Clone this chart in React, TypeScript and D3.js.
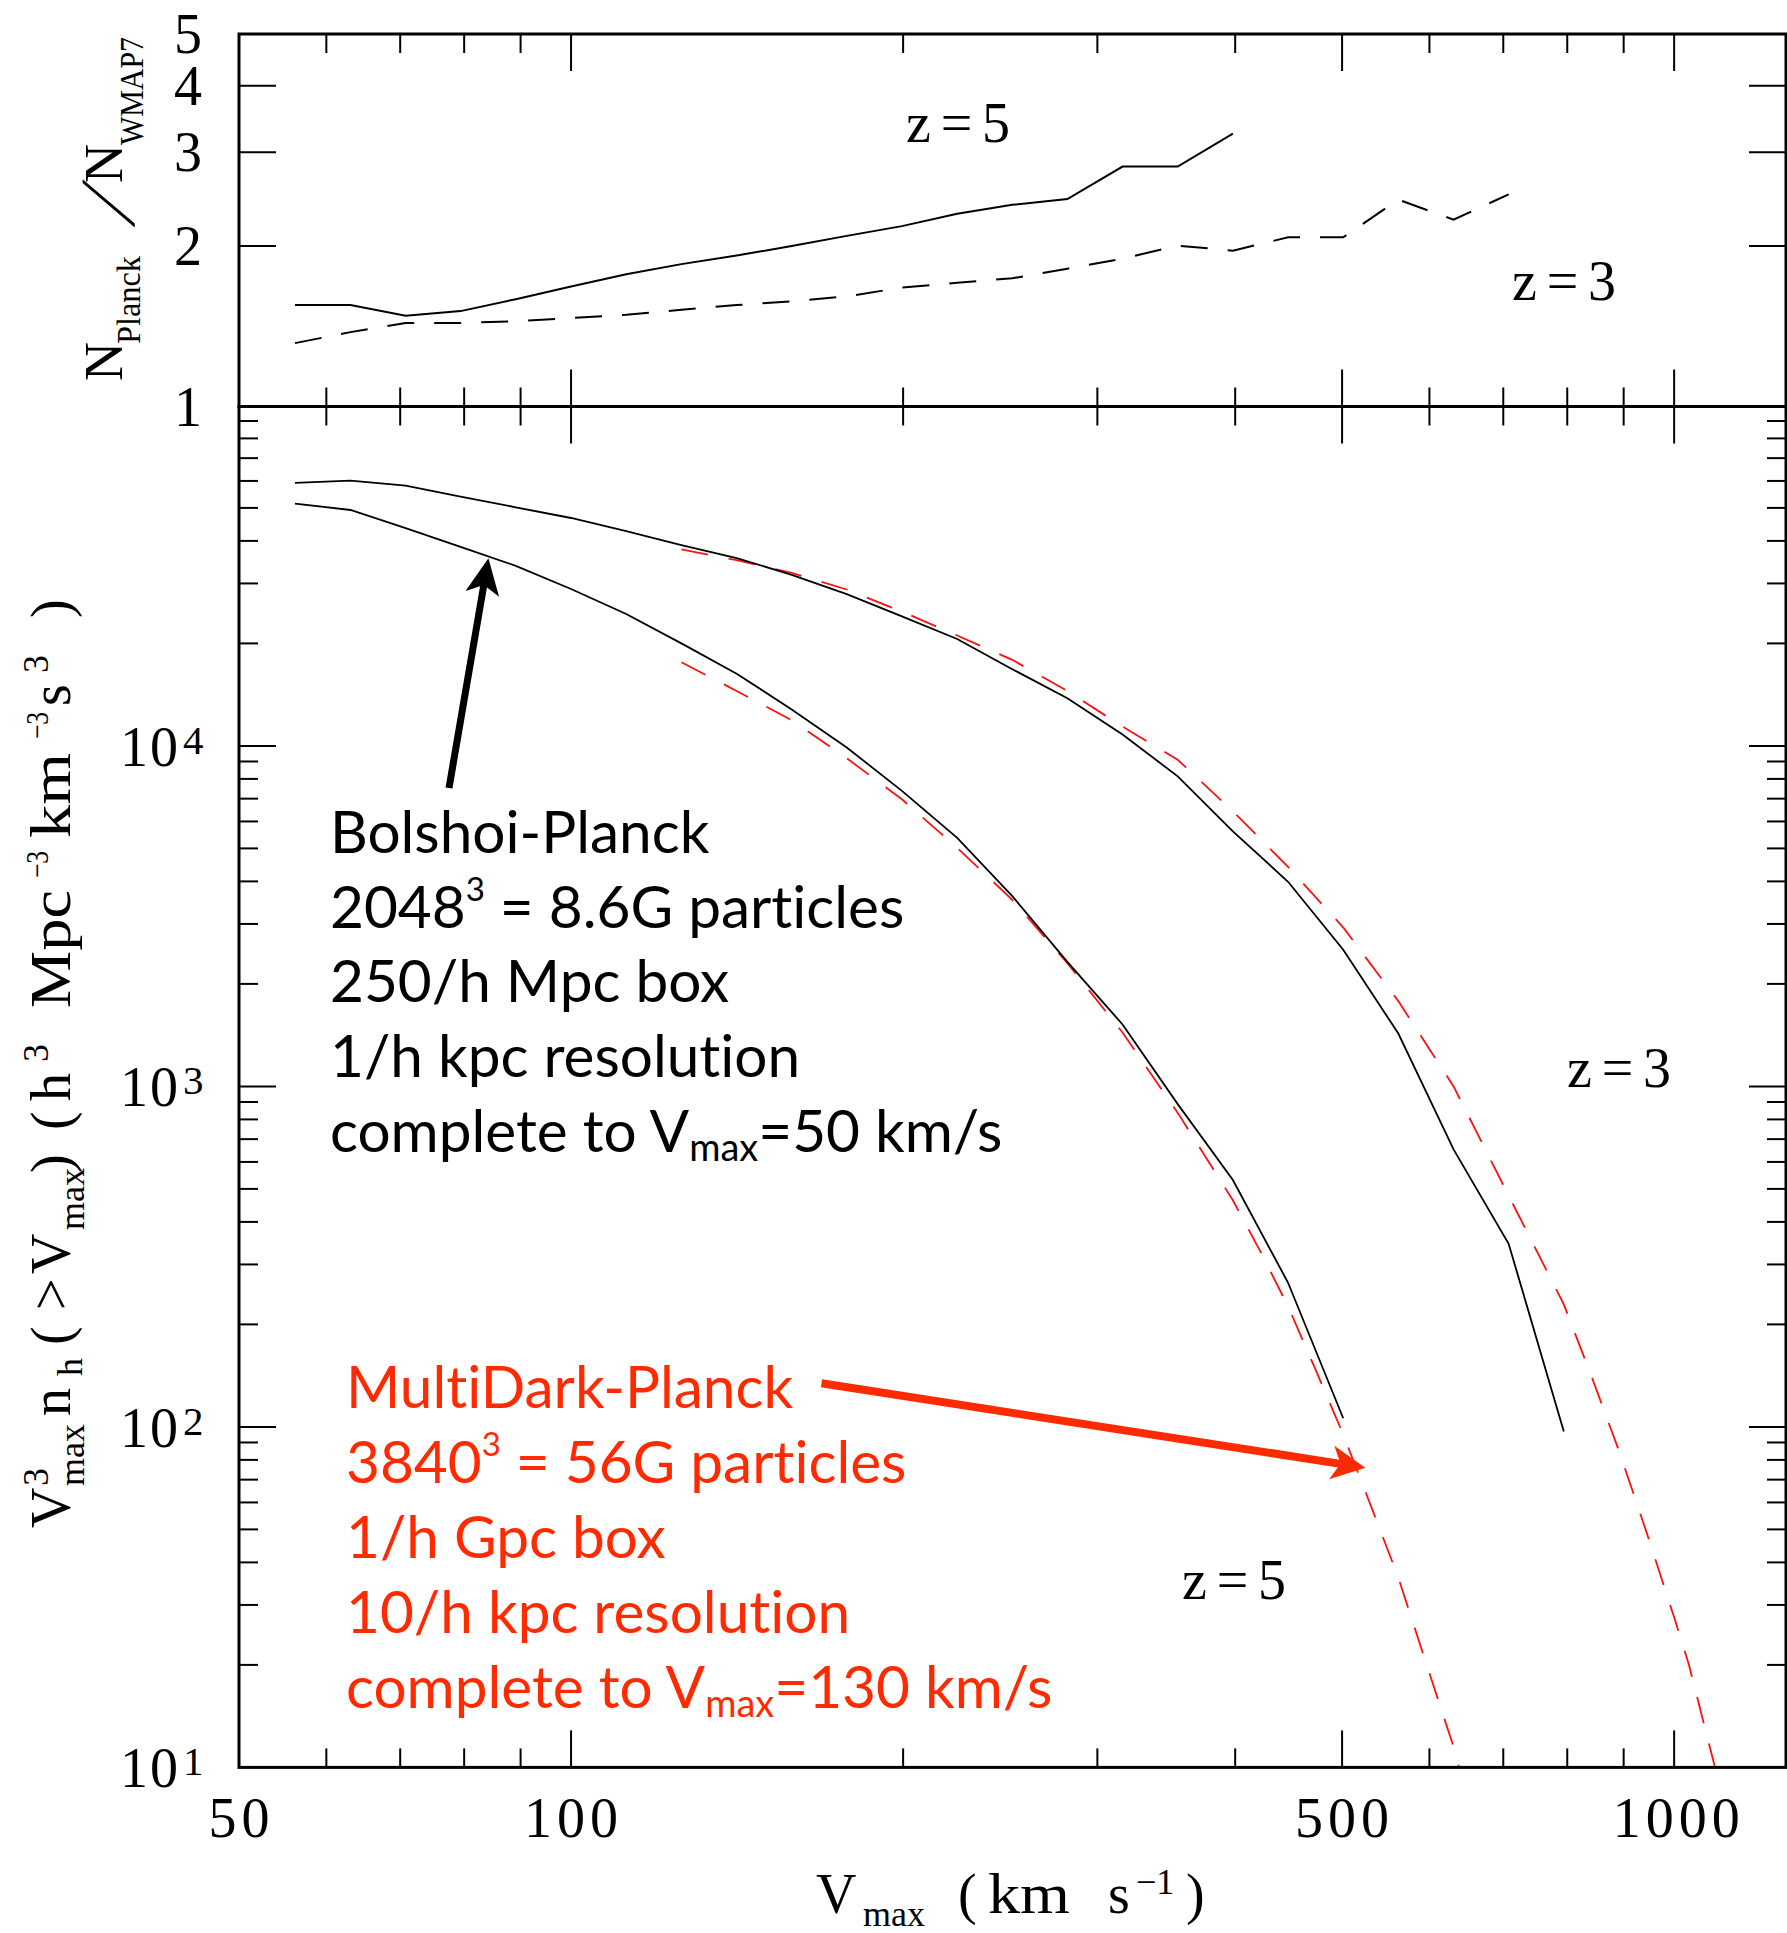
import React from 'react';
import * as d3 from 'd3';

// ---------------- data ----------------
const vmaxGrid = [56.2, 63.1, 70.8, 79.4, 89.1, 100, 112.2, 125.9, 141.3, 158.5, 177.8, 199.5,
  223.9, 251.2, 281.8, 316.2, 354.8, 398.1, 446.7, 501.2, 562.3, 631.0, 707.9, 794.3];

// upper panel: N_Planck / N_WMAP7
const ratioZ5 = [1.55, 1.55, 1.48, 1.51, 1.59, 1.68, 1.77, 1.85, 1.92, 2.0, 2.09, 2.18, 2.3, 2.39, 2.45, 2.82, 2.82, 3.25];
const ratioZ3 = [1.315, 1.379, 1.434, 1.434, 1.446, 1.466, 1.486, 1.519, 1.55, 1.575, 1.609, 1.672, 1.707, 1.74,
  1.814, 1.894, 2.004, 1.961, 2.077, 2.077, 2.444, 2.242, 2.501];

// lower panel: Bolshoi-Planck (black solid)
const bolshoiZ3 = [59200, 60100, 58100, 54000, 50200, 46700, 42700, 38900, 35600, 31800, 27900, 24000,
  20600, 16800, 13800, 10800, 8140, 5610, 3990, 2520, 1430, 653, 345, 97];
const bolshoiZ5 = [51500, 49300, 43600, 38400, 33800, 28900, 24400, 20000, 16300, 12800, 9890, 7380,
  5370, 3620, 2320, 1520, 887, 531, 265, 106];

// lower panel: MultiDark-Planck (red dashed)
const vmaxMdZ3 = [125.9, 141.3, 158.5, 177.8, 199.5, 223.9, 251.2, 281.8, 316.2, 354.8, 398.1, 446.7, 501.2,
  562.3, 631.0, 707.9, 794.3, 841.4, 891.3, 944.1, 1000, 1031, 1089];
const multidarkZ3 = [37800, 35100, 32200, 28800, 24800, 21100, 17900, 14500, 11400, 9100, 6430, 4410, 2930,
  1780, 1000, 478, 229, 141, 85, 49, 27.6, 20.1, 10];
const vmaxMdZ5 = [125.9, 141.3, 158.5, 177.8, 199.5, 223.9, 251.2, 281.8, 316.2, 354.8, 398.1, 421.7, 446.7,
  473.2, 501.2, 530.9, 562.3, 595.7, 631.0, 638.3];
const multidarkZ5 = [17600, 14500, 11900, 9200, 6970, 5020, 3530, 2300, 1440, 836, 463, 327, 226, 147, 95,
  58.7, 36.1, 20.3, 11.5, 10];

// ticks
const xMajorTicks = [100, 500, 1000];
const xMinorTicks = [60, 70, 80, 90, 200, 300, 400, 600, 700, 800, 900];
const xTickLabels = [50, 100, 500, 1000];
const ratioTicks = [2, 3, 4];
const ratioTickLabels = [1, 2, 3, 4, 5];
const decadeExponents = [1, 2, 3, 4];
const minorMultipliers = [2, 3, 4, 5, 6, 7, 8, 9];

const blackLines = [
  'Bolshoi-Planck',
  '2048|3| = 8.6G particles',
  '250/h Mpc box',
  '1/h kpc resolution',
  'complete to V_max_=50 km/s',
];
const redLines = [
  'MultiDark-Planck',
  '3840|3| = 56G particles',
  '1/h Gpc box',
  '10/h kpc resolution',
  'complete to V_max_=130 km/s',
];

const serif = "'Liberation Serif', 'Times New Roman', serif";
const sans = "Lato, 'Open Sans', sans-serif";
const RED_TEXT = '#ff2a00';
const RED_LINE = '#ff1010';
const ANN_SIZE = 58.5;

function zip(xs: number[], ys: number[]): [number, number][] {
  return ys.map((v, i) => [xs[i], v]);
}

function arrowShapes(tail: [number, number], tip: [number, number], len: number, half: number, notch: number) {
  const dx = tip[0] - tail[0], dy = tip[1] - tail[1];
  const L = Math.hypot(dx, dy);
  const ux = dx / L, uy = dy / L;
  const px = -uy, py = ux;
  const bx = tip[0] - ux * len, by = tip[1] - uy * len;
  const nx = tip[0] - ux * (len - notch), ny = tip[1] - uy * (len - notch);
  const head = `M${tip[0]},${tip[1]} L${bx + px * half},${by + py * half} L${nx},${ny} L${bx - px * half},${by - py * half} Z`;
  return { shaft: [tail, [nx, ny]] as [number, number][], head };
}

function AnnotLine({ text, x, y, color }: { text: string; x: number; y: number; color: string }) {
  // "|3|" = superscript, "_max_" = subscript
  const parts: React.ReactNode[] = [];
  const re = /(\|[^|]+\||_[^_]+_)/g;
  let last = 0, m: RegExpExecArray | null, k = 0, shift = 0;
  while ((m = re.exec(text)) !== null) {
    if (m.index > last) {
      parts.push(<tspan key={k++} dy={-shift}>{text.slice(last, m.index)}</tspan>);
      shift = 0;
    }
    const tok = m[0];
    if (tok.startsWith('|')) {
      parts.push(<tspan key={k++} dy={-27 - shift} fontSize={33}>{tok.slice(1, -1)}</tspan>);
      shift = -27;
    } else {
      parts.push(<tspan key={k++} dy={9 - shift} fontSize={38}>{tok.slice(1, -1)}</tspan>);
      shift = 9;
    }
    last = m.index + tok.length;
  }
  if (last < text.length) parts.push(<tspan key={k++} dy={-shift}>{text.slice(last)}</tspan>);
  return (
    <text x={x} y={y} fill={color} fontFamily={sans} fontSize={ANN_SIZE}
      style={{ fontVariantLigatures: 'none', fontFeatureSettings: '"liga" 0, "clig" 0' }}>{parts}</text>
  );
}

export default function App() {
  const W = 1787, H = 1933;
  const X0 = 239, X1 = 1786, YT = 34, YM = 406.5, YB = 1767.4;
  const MAJ = 37, MIN = 19;

  const x = d3.scaleLog().domain([50, 1263]).range([X0, X1]);
  const yR = d3.scaleLog().domain([1, 5]).range([YM, YT]);
  const yN = d3.scaleLog().domain([10, 1e5]).range([YB, YB - 4 * 340.5]);

  const lineR = d3.line<[number, number]>().x(d => x(d[0])).y(d => yR(d[1]));
  const lineN = d3.line<[number, number]>().x(d => x(d[0])).y(d => yN(d[1]));

  const ticks: React.ReactNode[] = [];
  let tk = 0;
  const tickStroke = { stroke: '#000', strokeWidth: 2 };
  const xEdges: [number, number[]][] = [[YT, [1]], [YM, [-1, 1]], [YB, [-1]]];
  xEdges.forEach(([yy, dirs]) => {
    dirs.forEach(dir => {
      xMajorTicks.forEach(v => ticks.push(<line key={tk++} x1={x(v)} x2={x(v)} y1={yy} y2={yy + dir * MAJ} {...tickStroke} />));
      xMinorTicks.forEach(v => ticks.push(<line key={tk++} x1={x(v)} x2={x(v)} y1={yy} y2={yy + dir * MIN} {...tickStroke} />));
    });
  });
  ratioTicks.forEach(v => {
    ticks.push(<line key={tk++} x1={X0} x2={X0 + MAJ} y1={yR(v)} y2={yR(v)} {...tickStroke} />);
    ticks.push(<line key={tk++} x1={X1} x2={X1 - MAJ} y1={yR(v)} y2={yR(v)} {...tickStroke} />);
  });
  decadeExponents.forEach(e => {
    const base = Math.pow(10, e);
    if (e > 1) {
      ticks.push(<line key={tk++} x1={X0} x2={X0 + MAJ} y1={yN(base)} y2={yN(base)} {...tickStroke} />);
      ticks.push(<line key={tk++} x1={X1} x2={X1 - MAJ} y1={yN(base)} y2={yN(base)} {...tickStroke} />);
    }
    minorMultipliers.forEach(mm => {
      const yy = yN(mm * base);
      if (yy < YM + 2) return;
      ticks.push(<line key={tk++} x1={X0} x2={X0 + MIN} y1={yy} y2={yy} {...tickStroke} />);
      ticks.push(<line key={tk++} x1={X1} x2={X1 - MIN} y1={yy} y2={yy} {...tickStroke} />);
    });
  });

  const blackArrow = arrowShapes([449, 788], [488.4, 558.3], 36, 17, 9);
  const redArrow = arrowShapes([821.5, 1383.3], [1365.3, 1467.7], 34, 17, 9);

  return (
    <svg width={W} height={H} viewBox={`0 0 ${W} ${H}`} style={{ position: 'absolute', left: 0, top: 0, background: '#fff' }}>
      <rect x={0} y={0} width={W} height={H} fill="#fff" />
      <defs>
        <clipPath id="lowClip"><rect x={X0} y={YM} width={X1 - X0} height={YB - YM} /></clipPath>
        <clipPath id="upClip"><rect x={X0} y={YT} width={X1 - X0} height={YM - YT} /></clipPath>
      </defs>

      {/* upper panel curves */}
      <g clipPath="url(#upClip)" fill="none">
        <path d={lineR(zip(vmaxGrid, ratioZ5)) || ''} stroke="#000" strokeWidth={2} />
        <path d={lineR(zip(vmaxGrid, ratioZ3)) || ''} stroke="#000" strokeWidth={2} strokeDasharray="27 20" />
      </g>

      {/* lower panel curves */}
      <g clipPath="url(#lowClip)" fill="none">
        <path d={lineN(zip(vmaxMdZ3, multidarkZ3)) || ''} stroke={RED_LINE} strokeWidth={1.8} strokeDasharray="27 21" />
        <path d={lineN(zip(vmaxMdZ5, multidarkZ5)) || ''} stroke={RED_LINE} strokeWidth={1.8} strokeDasharray="27 21" />
        <path d={lineN(zip(vmaxGrid, bolshoiZ3)) || ''} stroke="#000" strokeWidth={1.8} />
        <path d={lineN(zip(vmaxGrid, bolshoiZ5)) || ''} stroke="#000" strokeWidth={1.8} />
      </g>

      {/* frames */}
      <g fill="none" stroke="#000" strokeWidth={3}>
        <rect x={X0} y={YT} width={X1 - X0} height={YM - YT} />
        <rect x={X0} y={YM} width={X1 - X0} height={YB - YM} />
      </g>
      {ticks}

      {/* x tick labels */}
      <g fontFamily={serif} fontSize={56} textAnchor="middle" letterSpacing={5}>
        {xTickLabels.map(v => (
          <text key={v} x={x(v) + (v === 1000 ? 4.5 : 2.5)} y={1837}>{v}</text>
        ))}
      </g>
      {/* upper y tick labels */}
      <g fontFamily={serif} fontSize={56} textAnchor="end">
        {ratioTickLabels.map(v => (
          <text key={v} x={202} y={yR(v) + 19}>{v}</text>
        ))}
      </g>
      {/* lower y tick labels */}
      <g fontFamily={serif}>
        {decadeExponents.map(e => (
          <g key={e}>
            <text x={180} y={yN(Math.pow(10, e)) + 20} fontSize={56} textAnchor="end" letterSpacing={2}>10</text>
            <text x={183} y={yN(Math.pow(10, e)) + 8} fontSize={41}>{e}</text>
          </g>
        ))}
      </g>

      {/* x axis title */}
      <g fontFamily={serif} fill="#000">
        <text x={816} y={1913} fontSize={56}>V</text>
        <text x={863} y={1926} fontSize={36}>max</text>
        <text x={958} y={1913} fontSize={56}>(</text>
        <text x={988} y={1913} fontSize={56} textLength={82} lengthAdjust="spacingAndGlyphs">km</text>
        <text x={1108} y={1913} fontSize={56}>s</text>
        <text x={1136} y={1894} fontSize={36}>−1</text>
        <text x={1186} y={1913} fontSize={56}>)</text>
      </g>

      {/* upper y axis title */}
      <g transform="translate(122,381) rotate(-90)" fontFamily={serif} fill="#000">
        <text x={0} y={0} fontSize={54}>N</text>
        <text x={37} y={18} fontSize={34} textLength={88} lengthAdjust="spacingAndGlyphs">Planck</text>
        <g transform="translate(154,12) skewX(-27)">
          <text x={0} y={0} fontSize={78}>/</text>
        </g>
        <text x={198} y={0} fontSize={54}>N</text>
        <text x={236} y={21} fontSize={34} textLength={108} lengthAdjust="spacingAndGlyphs">WMAP7</text>
      </g>

      {/* lower y axis title */}
      <g transform="translate(70,1528) rotate(-90)" fontFamily={serif} fill="#000" fontSize={56}>
        <text x={0} y={0}>V</text>
        <text x={42} y={-22} fontSize={36}>3</text>
        <text x={42} y={14} fontSize={36}>max</text>
        <text x={112} y={0}>n</text>
        <text x={152} y={12} fontSize={36}>h</text>
        <text x={183} y={0}>(</text>
        <text x={218} y={0}>&gt;</text>
        <text x={254} y={0}>V</text>
        <text x={298} y={14} fontSize={36}>max</text>
        <text x={355} y={0}>)</text>
        <text x={398} y={0}>(</text>
        <text x={427} y={0}>h</text>
        <text x={466} y={-22} fontSize={36}>3</text>
        <text x={520} y={0} textLength={118} lengthAdjust="spacingAndGlyphs">Mpc</text>
        <text x={650} y={-22} fontSize={32} textLength={27} lengthAdjust="spacingAndGlyphs">−3</text>
        <text x={690} y={0} textLength={85} lengthAdjust="spacingAndGlyphs">km</text>
        <text x={789} y={-22} fontSize={32} textLength={27} lengthAdjust="spacingAndGlyphs">−3</text>
        <text x={822} y={0}>s</text>
        <text x={855} y={-22} fontSize={36}>3</text>
        <text x={910} y={0}>)</text>
      </g>

      {/* z labels */}
      <g fontFamily={serif} fontSize={56} fill="#000">
        <text x={906} y={142} textLength={104} lengthAdjust="spacing">z=5</text>
        <text x={1512} y={300} textLength={104} lengthAdjust="spacing">z=3</text>
        <text x={1567} y={1087} textLength={104} lengthAdjust="spacing">z=3</text>
        <text x={1182} y={1599} textLength={104} lengthAdjust="spacing">z=5</text>
      </g>

      {/* annotations */}
      {blackLines.map((t, i) => (
        <AnnotLine key={'b' + i} text={t} x={330} y={853 + i * 74.7} color="#000" />
      ))}
      {redLines.map((t, i) => (
        <AnnotLine key={'r' + i} text={t} x={346} y={1408 + i * 75} color={RED_TEXT} />
      ))}

      {/* arrows */}
      <path d={d3.line()(blackArrow.shaft) || ''} stroke="#000" strokeWidth={7} fill="none" />
      <path d={blackArrow.head} fill="#000" />
      <path d={d3.line()(redArrow.shaft) || ''} stroke={RED_TEXT} strokeWidth={8} fill="none" />
      <path d={redArrow.head} fill={RED_TEXT} />
    </svg>
  );
}
